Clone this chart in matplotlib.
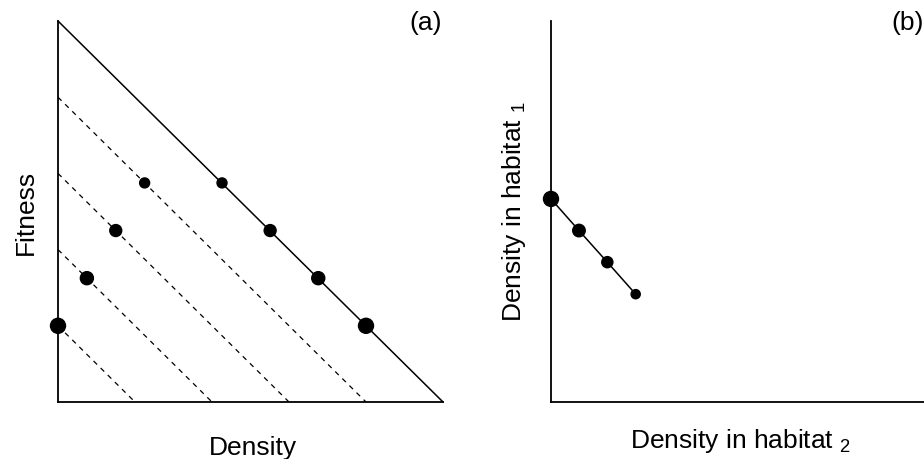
import matplotlib
matplotlib.use("Agg")
import matplotlib.pyplot as plt
import numpy as np

plt.rcParams['font.family'] = ['Liberation Sans', 'DejaVu Sans']
plt.rcParams['mathtext.fontset'] = 'custom'
plt.rcParams['mathtext.rm'] = 'Liberation Sans'
plt.rcParams['mathtext.it'] = 'Liberation Sans'

# panel (a): fitness isoclines (fitness = c - density)
iso_levels = [0.2, 0.4, 0.6, 0.8]
top_level = 1.0
# dots sitting on the dashed lines, and the matching dots on the solid line
dash_x = [0.0, 0.075, 0.15, 0.225]
dash_y = [0.2, 0.325, 0.45, 0.575]
solid_x = [0.8, 0.676, 0.551, 0.426]
solid_y = [0.2, 0.325, 0.45, 0.575]
dot_pt = [10.8, 9.4, 8.6, 7.2]

# panel (b): densities in the two habitats
hab2 = [0.0, 0.075, 0.151, 0.227]
hab1 = [0.533, 0.45, 0.367, 0.283]
dot_pt_b = [10.8, 9.0, 8.0, 6.6]

W, H = 924, 460
FS = 19
fig = plt.figure(figsize=(W / 100, H / 100), dpi=100)


def px_text(x, y, s, rot=0):
    # place text by its left/baseline anchor, given in pixels from top-left
    fig.text(x / W, 1 - y / H, s, fontsize=FS, rotation=rot,
             rotation_mode='anchor', ha='left', va='baseline')


# ---- panel (a)
ax = fig.add_axes([58 / W, 57 / H, 385 / W, 381 / H])
ax.set_xlim(0, 1)
ax.set_ylim(0, 1)
for c in iso_levels:
    ax.plot([0, c], [c, 0], color='black', lw=0.9, ls=(0, (4, 4)))
ax.plot([0, top_level], [top_level, 0], color='black', lw=1.1, clip_on=False)
ax.scatter(dash_x, dash_y, s=np.array(dot_pt) ** 2, color='black', zorder=3, clip_on=False)
ax.scatter(solid_x, solid_y, s=np.array(dot_pt) ** 2, color='black', zorder=3, clip_on=False)
for s in ['top', 'right']:
    ax.spines[s].set_visible(False)
for s in ['left', 'bottom']:
    ax.spines[s].set_linewidth(1.3)
ax.set_xticks([])
ax.set_yticks([])
px_text(209, 455, 'Density')
px_text(33, 255, 'Fitness', rot=90)
fig.text(426 / W, 1 - 23 / H, '(a)', fontsize=FS, ha='center', va='center')

# ---- panel (b)
bx = fig.add_axes([551 / W, 57 / H, 373 / W, 381 / H])
bx.set_xlim(0, 1)
bx.set_ylim(0, 1)
bx.plot(hab2, hab1, color='black', lw=1.1, clip_on=False)
bx.scatter(hab2, hab1, s=np.array(dot_pt_b) ** 2, color='black', zorder=3, clip_on=False)
for s in ['top', 'right']:
    bx.spines[s].set_visible(False)
for s in ['left', 'bottom']:
    bx.spines[s].set_linewidth(1.3)
bx.set_xticks([])
bx.set_yticks([])
px_text(630, 448, 'Density in habitat $_{2}$')
px_text(521, 322, 'Density in habitat $_{1}$', rot=90)
fig.text(908 / W, 1 - 23 / H, '(b)', fontsize=FS, ha='center', va='center')

fig.savefig('out.png', dpi=100)
